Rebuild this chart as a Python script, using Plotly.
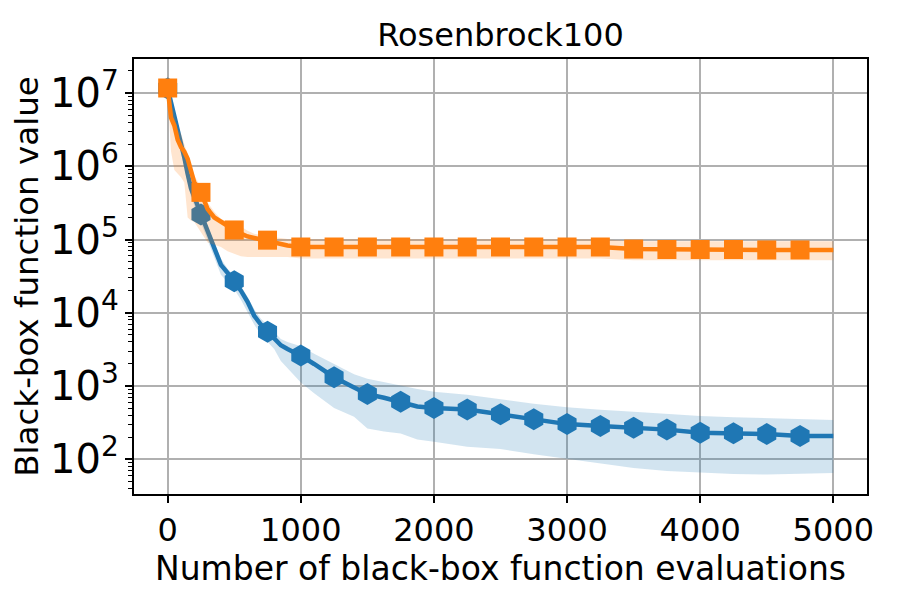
import plotly.graph_objects as go

# evaluation counts where the curves were read
evals = [0, 25, 50, 75, 100, 125, 150, 175, 200, 250, 300, 350, 400, 450, 500,
         550, 600, 650, 700, 750, 800, 850, 900, 1000, 1100, 1250, 1400, 1500,
         1625, 1750, 1875, 2000, 2250, 2500, 2750, 3000, 3250, 3500, 3750, 4000,
         4250, 4500, 4750, 5000]

# blue method: mean and band
blue_mean = [1.15e7, 7.6e6, 4.6e6, 3.0e6, 2.0e6, 1.32e6, 7.9e5, 5.0e5, 3.8e5, 2.2e5,
             1.26e5, 7.6e4, 4.5e4, 3.5e4, 2.7e4, 2.0e4, 1.41e4, 9.1e3, 6.9e3, 5.5e3,
             4.6e3, 3.6e3, 3.2e3, 2.6e3, 2.0e3, 1.32e3, 955, 776, 692, 611, 525, 501,
             479, 411, 351, 302, 285, 269, 254, 231, 226, 221, 208, 208]
blue_upper = [1.15e7, 8.3e6, 5.5e6, 3.5e6, 2.4e6, 1.58e6, 9.5e5, 6.3e5, 4.6e5, 2.6e5,
              1.51e5, 9.1e4, 5.5e4, 4.0e4, 3.2e4, 2.3e4, 1.66e4, 1.12e4, 8.3e3, 6.8e3,
              5.5e3, 4.4e3, 4.0e3, 3.5e3, 2.75e3, 2.0e3, 1.45e3, 1.26e3, 1.12e3, 1.02e3,
              912, 832, 759, 661, 575, 513, 473, 447, 417, 389, 376, 363, 351, 344]
blue_lower = [1.0e7, 6.3e6, 3.6e6, 2.4e6, 1.58e6, 1.0e6, 6.0e5, 3.8e5, 2.9e5, 1.66e5,
              9.5e4, 5.8e4, 3.3e4, 2.6e4, 2.1e4, 1.51e4, 1.0e4, 6.9e3, 5.0e3, 4.0e3,
              3.2e3, 2.2e3, 1.74e3, 1.12e3, 794, 501, 380, 263, 240, 224, 186, 174,
              148, 138, 117, 102, 89, 76, 69, 66, 63, 62, 63, 65]

# orange method: mean and band
orange_mean = [1.17e7, 4.6e6, 3.6e6, 2.3e6, 1.82e6, 1.58e6, 1.26e6, 8.9e5, 6.0e5, 4.4e5,
               2.6e5, 2.0e5, 1.74e5, 1.51e5, 1.35e5, 1.2e5, 1.1e5, 1.05e5, 1.0e5, 9.8e4,
               9.1e4, 8.8e4, 8.3e4, 7.9e4, 7.9e4, 7.9e4, 7.9e4, 7.9e4, 7.9e4, 7.9e4,
               7.9e4, 7.9e4, 7.9e4, 7.9e4, 7.9e4, 7.9e4, 7.9e4, 7.4e4, 7.3e4, 7.3e4,
               7.3e4, 7.2e4, 7.2e4, 7.2e4]
orange_upper = [1.2e7, 7.1e6, 5.2e6, 3.2e6, 2.8e6, 2.0e6, 1.41e6, 1.0e6, 7.4e5, 5.2e5,
                3.2e5, 2.4e5, 1.9e5, 1.74e5, 1.66e5, 1.51e5, 1.32e5, 1.2e5, 1.15e5, 1.1e5,
                1.07e5, 1.05e5, 1.02e5, 1.02e5, 1.02e5, 1.02e5, 1.02e5, 1.02e5, 1.02e5,
                1.02e5, 1.02e5, 1.02e5, 1.02e5, 1.02e5, 1.02e5, 1.02e5, 1.02e5, 9.5e4,
                9.5e4, 9.5e4, 9.5e4, 9.5e4, 9.5e4, 9.5e4]
orange_lower = [1.0e7, 1.6e6, 8.9e5, 7.9e5, 7.1e5, 6.0e5, 2.0e5, 1.82e5, 1.74e5, 1.26e5,
                9.1e4, 8.5e4, 7.9e4, 6.9e4, 6.3e4, 5.9e4, 5.75e4, 5.75e4, 5.75e4, 5.75e4,
                5.75e4, 5.75e4, 5.75e4, 5.5e4, 5.5e4, 5.5e4, 5.5e4, 5.5e4, 5.5e4, 5.5e4,
                5.5e4, 5.5e4, 5.5e4, 5.5e4, 5.5e4, 5.5e4, 5.5e4, 5.2e4, 5.2e4, 5.2e4,
                5.2e4, 5.2e4, 5.2e4, 5.2e4]

marker_every = 250

BLUE = "#1f77b4"
ORANGE = "#ff7f0e"

fig = go.Figure()


def add_method(fig, mean, lower, upper, color, band, symbol, size):
    fig.add_trace(go.Scatter(x=evals, y=lower, mode="lines", line=dict(width=0),
                             showlegend=False, hoverinfo="skip"))
    fig.add_trace(go.Scatter(x=evals, y=upper, mode="lines", line=dict(width=0),
                             fill="tonexty", fillcolor=band, showlegend=False,
                             hoverinfo="skip"))
    fig.add_trace(go.Scatter(x=evals, y=mean, mode="lines",
                             line=dict(color=color, width=4.5), showlegend=False))
    mx = [x for x in evals if x % marker_every == 0 and x < evals[-1]]
    my = [m for x, m in zip(evals, mean) if x % marker_every == 0 and x < evals[-1]]
    fig.add_trace(go.Scatter(x=mx, y=my, mode="markers",
                             marker=dict(symbol=symbol, size=size, color=color,
                                         line=dict(width=0)),
                             showlegend=False))


add_method(fig, blue_mean, blue_lower, blue_upper, BLUE,
           "rgba(31,119,180,0.2)", "hexagon", 22)
add_method(fig, orange_mean, orange_lower, orange_upper, ORANGE,
           "rgba(255,127,14,0.2)", "square", 19)

tick_font = dict(family="DejaVu Sans", size=32, color="black")
xlabel_font = dict(family="DejaVu Sans", size=33, color="black")
ylabel_font = dict(family="DejaVu Sans", size=32.5, color="black")

# the page body adds an 8px offset, so the margins are shifted to compensate
fig.update_layout(
    width=900, height=600,
    paper_bgcolor="white", plot_bgcolor="white",
    margin=dict(l=126, r=41, t=51, b=114),
    font=dict(family="DejaVu Sans", color="black"),
    title=dict(text="Rosenbrock100", x=0.5, xref="paper", y=0.955, yanchor="middle",
               font=dict(family="DejaVu Sans", size=32, color="black")),
)

fig.update_xaxes(
    range=[-253, 5253],
    tickvals=[0, 1000, 2000, 3000, 4000, 5000],
    tickfont=tick_font,
    title=dict(text="Number of black-box function evaluations", font=xlabel_font,
               standoff=2),
    automargin=False,
    showgrid=True, gridcolor="#b0b0b0", gridwidth=1.5,
    showline=True, linecolor="black", linewidth=1.5, mirror=True,
    ticks="outside", ticklen=7, tickwidth=1.5, tickcolor="black",
    zeroline=False,
)

fig.update_yaxes(
    type="log",
    range=[1.526, 7.464],
    dtick=1,
    exponentformat="power",
    tickfont=tick_font,
    title=dict(text="Black-box function value", font=ylabel_font, standoff=4),
    automargin=False,
    showgrid=True, gridcolor="#b0b0b0", gridwidth=1.5,
    showline=True, linecolor="black", linewidth=1.5, mirror=True,
    ticks="outside", ticklen=7, tickwidth=1.5, tickcolor="black",
    minor=dict(ticks="outside", ticklen=4, tickwidth=1, tickcolor="black",
               showgrid=False, dtick="D1"),
    zeroline=False,
)

fig.write_html("out.html")
